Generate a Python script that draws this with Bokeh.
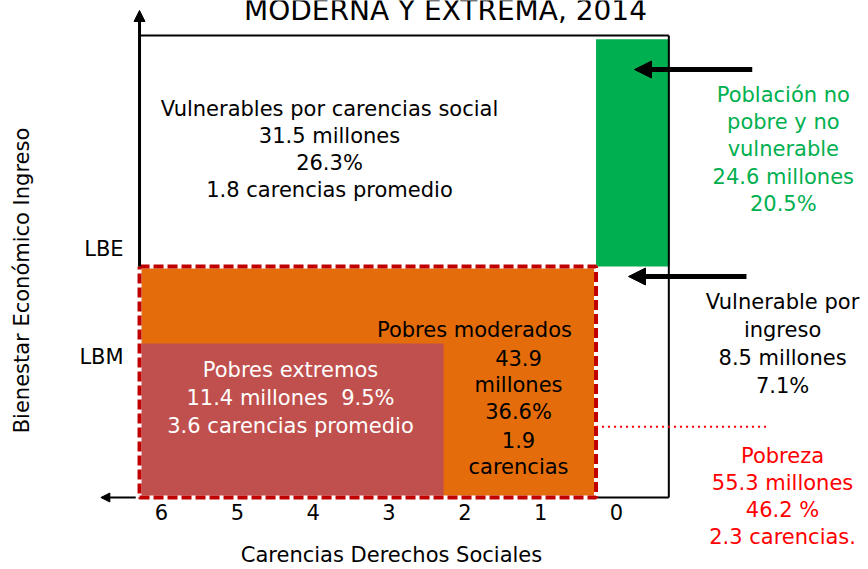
import math
from bokeh.plotting import figure
from bokeh.models import Range1d, Arrow, NormalHead, ColumnDataSource
from bokeh.embed import file_html
from bokeh.resources import INLINE
from bokeh.core.properties import value

# ---------------- data ----------------
titulo = "MODERNA Y EXTREMA, 2014"
eje_x = "Carencias Derechos Sociales"
eje_y = "Bienestar Económico Ingreso"
carencias_ticks = [6, 5, 4, 3, 2, 1, 0]
lineas_bienestar = ["LBE", "LBM"]
lineas_valor = [3.0, 2.0]          # LBE, LBM (income axis units)
umbral_carencias = 0.27            # boundary between 0 and >=1 carencias
umbral_extremo = 2.28              # boundary for extreme poverty (carencias)
grupos = ["Vulnerables por carencias social", "Población no pobre y no vulnerable",
          "Vulnerable por ingreso", "Pobres moderados", "Pobres extremos", "Pobreza"]
millones = [31.5, 24.6, 8.5, 43.9, 11.4, 55.3]
porcentajes = [26.3, 20.5, 7.1, 36.6, 9.5, 46.2]
carencias_promedio = [1.8, None, None, 1.9, 3.6, 2.3]

# ---------------- layout ----------------
W, H = 868, 569
PX_X, PX_Y = 75.83, 77.0
x_start = 616.0 / PX_X
x_end = x_start - W / PX_X
y_end = 497.0 / PX_Y
y_start = y_end - H / PX_Y
DY = 0.112   # text baseline correction

X_LEFT, X_RIGHT = 6.29, -0.69
Y_TOP = 6.0
LBE, LBM = lineas_valor

FONT = value("DejaVu Sans")
FS = "21px"
ORANGE = "#E46C0A"
EXTREME = "#C0504D"
GREEN = "#00B050"
DARKRED = "#C00000"

p = figure(width=W, height=H, x_range=Range1d(x_start, x_end), y_range=Range1d(y_start, y_end),
           output_backend="svg", toolbar_location=None, x_axis_type=None, y_axis_type=None,
           min_border=0, background_fill_color="white", border_fill_color="white")
p.outline_line_color = None
p.xgrid.visible = False
p.ygrid.visible = False

# Regions
p.quad(left=[umbral_carencias], right=[X_RIGHT - 0.01], bottom=[LBE], top=[5.95],
       fill_color=GREEN, line_color=None)
p.quad(left=[X_LEFT], right=[umbral_carencias], bottom=[0], top=[LBE],
       fill_color=ORANGE, line_color=None)
p.quad(left=[X_LEFT], right=[umbral_extremo], bottom=[0], top=[LBM],
       fill_color=EXTREME, line_color=None)

# Box borders
p.line([X_LEFT, X_RIGHT], [Y_TOP, Y_TOP], line_color="black", line_width=2)
p.line([X_RIGHT, X_RIGHT], [Y_TOP, 0], line_color="black", line_width=2)
p.line([umbral_carencias, X_RIGHT], [0, 0], line_color="black", line_width=2)

# vertical axis arrow
p.add_layout(Arrow(x_start=X_LEFT, y_start=LBE, x_end=X_LEFT, y_end=6.325, line_width=3,
                   line_color="black",
                   end=NormalHead(size=11, fill_color="black", line_color="black")))
# horizontal axis arrow (leftwards)
p.add_layout(Arrow(x_start=6.34, y_start=0, x_end=6.80, y_end=0, line_width=2,
                   line_color="black",
                   end=NormalHead(size=9, fill_color="black", line_color="black")))

# Poverty dashed outline
px = [X_LEFT, umbral_carencias, umbral_carencias, X_LEFT, X_LEFT]
py = [LBE, LBE, 0, 0, LBE]
p.line(px, py, line_color="white", line_width=4)
p.line(px, py, line_color=DARKRED, line_width=4, line_dash="10 4")

# dotted red line
p.line([umbral_carencias, -2.02], [0.92, 0.92], line_color="#FF0000", line_width=2,
       line_dash="2 4")

# pointer arrows
p.add_layout(Arrow(x_start=-1.79, y_start=5.558, x_end=-0.237, y_end=5.558, line_width=5,
                   line_color="black",
                   end=NormalHead(size=17, fill_color="black", line_color="black")))
p.add_layout(Arrow(x_start=-1.714, y_start=2.870, x_end=-0.158, y_end=2.870, line_width=5,
                   line_color="black",
                   end=NormalHead(size=17, fill_color="black", line_color="black")))


def block(x, y0, step, lines, color, size=FS, align="center", baseline="alphabetic", angle=0.0):
    src = ColumnDataSource(dict(x=[x] * len(lines),
                                y=[y0 + DY - i * step for i in range(len(lines))],
                                text=lines))
    p.text(x="x", y="y", text="text", source=src, text_font=FONT, text_font_size=size,
           text_color=color, text_align=align, text_baseline=baseline, angle=angle)


def fmt(v):
    return f"{v:.1f}"


# Title
block(2.255, 6.208, 0, [titulo], "black", size="28px")

# Vulnerables por carencias
block(3.785, 4.935, 0.351,
      [grupos[0], f"{fmt(millones[0])} millones", f"{fmt(porcentajes[0])}%",
       f"{fmt(carencias_promedio[0])} carencias promedio"], "black")

# Población no pobre y no vulnerable
block(-2.20, 5.117, 0.354,
      ["Población no", "pobre y no", "vulnerable", f"{fmt(millones[1])} millones",
       f"{fmt(porcentajes[1])}%"], GREEN)

# Vulnerable por ingreso
block(-2.19, 2.429, 0.364,
      ["Vulnerable por", "ingreso", f"{fmt(millones[2])} millones", f"{fmt(porcentajes[2])}%"],
      "black")

# Pobres moderados
block(1.873, 2.065, 0, [grupos[3]], "black")
block(1.292, 1.701, 0.354,
      [fmt(millones[3]), "millones", f"{fmt(porcentajes[3])}%", fmt(carencias_promedio[3]),
       "carencias"], "black")

# Pobres extremos
block(4.299, 1.545, 0.364,
      [grupos[4], f"{fmt(millones[4])} millones\u00a0 {fmt(porcentajes[4])}%",
       f"{fmt(carencias_promedio[4])} carencias promedio"], "white")

# Pobreza
block(-2.19, 0.429, 0.351,
      [grupos[5], f"{fmt(millones[5])} millones", f"{fmt(porcentajes[5])} %",
       f"{fmt(carencias_promedio[5])} carencias."], "#FF0000")

# Tick labels
tsrc = ColumnDataSource(dict(x=carencias_ticks, y=[-0.299 + DY] * len(carencias_ticks),
                             text=[str(c) for c in carencias_ticks]))
p.text(x="x", y="y", text="text", source=tsrc, text_font=FONT, text_font_size=FS,
       text_color="black", text_align="center", text_baseline="alphabetic")

# LBE / LBM labels
lsrc = ColumnDataSource(dict(x=[6.50, 6.50], y=[LBE + 0.117 + DY, LBM - 0.286 + DY],
                             text=lineas_bienestar))
p.text(x="x", y="y", text="text", source=lsrc, text_font=FONT, text_font_size=FS,
       text_color="black", text_align="right", text_baseline="alphabetic")

# Axis titles
block(2.967, -0.865, 0, [eje_x], "black")
block(7.846, 2.818 - DY, 0, [eje_y], "black", align="center", baseline="middle",
      angle=math.pi / 2)

open("out.html", "w").write(file_html(p, INLINE))
